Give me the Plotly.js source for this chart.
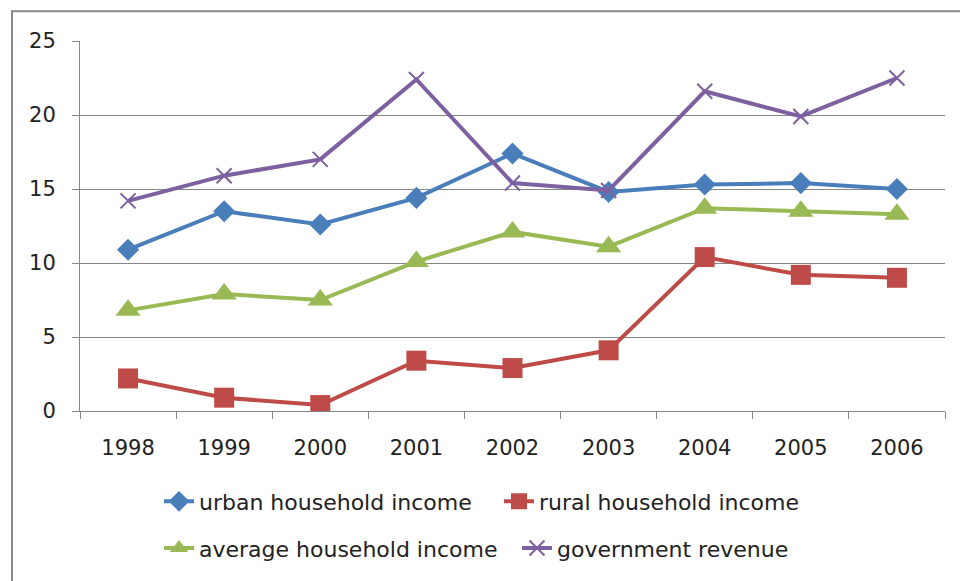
<!DOCTYPE html>
<html>
<head>
<meta charset="utf-8">
<script src="https://cdn.plot.ly/plotly-3.0.1.min.js"></script>
<style>html,body{margin:0;padding:0;background:#fff;}#chart{width:960px;height:581px;}</style>
</head>
<body>
<div id="chart"></div>
<script>
const years = ['1998','1999','2000','2001','2002','2003','2004','2005','2006'];
const urbanIncome = [10.9, 13.5, 12.6, 14.4, 17.4, 14.8, 15.3, 15.4, 15.0];
const ruralIncome = [2.2, 0.9, 0.4, 3.4, 2.9, 4.1, 10.4, 9.2, 9.0];
const averageIncome = [6.8, 7.9, 7.5, 10.1, 12.1, 11.1, 13.7, 13.5, 13.3];
const govRevenue = [14.2, 15.9, 17.0, 22.4, 15.4, 14.9, 21.6, 19.9, 22.5];
const seriesNames = ['urban household income','rural household income','average household income','government revenue'];

const colors = ['#4A7EBB','#BE4B48','#98B954','#7D60A0'];
const fontFam = 'DejaVu Sans, sans-serif';

const traces = [
  {x: years, y: urbanIncome, name: seriesNames[0], legend: 'legend',
   mode: 'lines+markers', line: {color: colors[0], width: 4},
   marker: {symbol: 'diamond', size: 17, color: colors[0]}},
  {x: years, y: ruralIncome, name: seriesNames[1], legend: 'legend2',
   mode: 'lines+markers', line: {color: colors[1], width: 4},
   marker: {symbol: 'square', size: 20, color: colors[1]}},
  {x: years, y: averageIncome, name: seriesNames[2], legend: 'legend3',
   mode: 'lines+markers', line: {color: colors[2], width: 4},
   marker: {symbol: 'triangle-up', size: 22, color: colors[2]}},
  {x: years, y: govRevenue, name: seriesNames[3], legend: 'legend4',
   mode: 'lines+markers', line: {color: colors[3], width: 4},
   marker: {symbol: 'x-thin-open', size: 15, color: colors[3], line: {width: 2, color: colors[3]}}}
];

const plotL = 80, plotR = 945, plotT = 41, plotB = 413, W = 960, H = 581;
const pw = plotR - plotL, ph = plotB - plotT;
function px(x){ return (x - plotL) / pw; }
function py(y){ return (plotB - y) / ph; }

function leg(xPix, yPix){
  return {orientation: 'h', x: px(xPix), xanchor: 'left', y: py(yPix), yanchor: 'middle',
          font: {family: fontFam, size: 22, color: '#222'}, bgcolor: 'rgba(0,0,0,0)',
          itemwidth: 30, tracegroupgap: 0};
}

const layout = {
  width: W, height: H,
  margin: {l: plotL, r: W - plotR, t: plotT, b: H - plotB, pad: 0},
  paper_bgcolor: '#fff', plot_bgcolor: '#fff',
  showlegend: true,
  font: {family: fontFam, size: 21, color: '#222'},
  xaxis: {type: 'category', range: [-0.5, 8.5], tickson: 'boundaries', ticks: 'outside', ticklen: 7,
          tickcolor: '#868686', showline: true, linecolor: '#868686', linewidth: 1,
          showgrid: false, ticklabelstandoff: 18, tickfont: {family: fontFam, size: 21, color: '#222'},
          fixedrange: true},
  yaxis: {range: [0, 25], dtick: 5, tick0: 0, ticks: 'outside', ticklen: 7,
          tickcolor: '#868686', showline: true, linecolor: '#868686', linewidth: 1,
          showgrid: true, gridcolor: '#868686', gridwidth: 1, zeroline: false,
          ticklabelstandoff: 12, tickfont: {family: fontFam, size: 21, color: '#222'},
          fixedrange: true},
  legend: leg(159, 504),
  legend2: leg(499, 504),
  legend3: leg(159, 551),
  legend4: leg(517, 551),
  shapes: [
    {type: 'rect', xref: 'paper', yref: 'paper',
     x0: px(12), x1: px(975), y0: py(600), y1: py(11),
     line: {color: '#878787', width: 2}, fillcolor: 'rgba(0,0,0,0)', layer: 'below'}
  ]
};

Plotly.newPlot('chart', traces, layout, {displayModeBar: false, staticPlot: true});
</script>
</body>
</html>
